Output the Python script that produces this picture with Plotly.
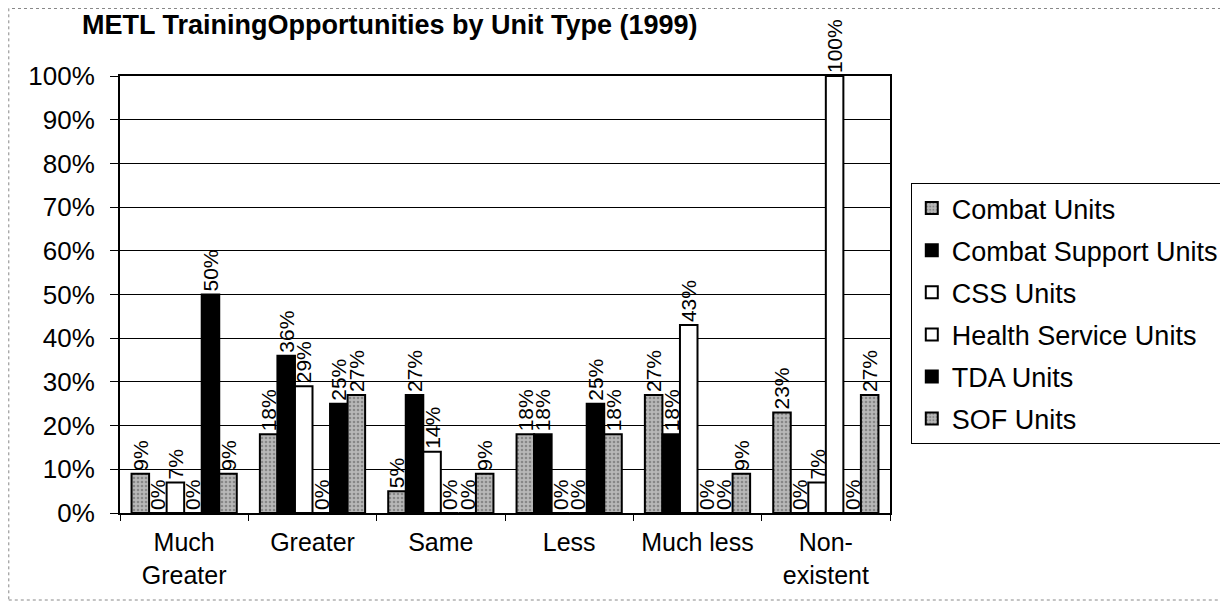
import plotly.graph_objects as go

categories = ["Much<br>Greater", "Greater", "Same", "Less", "Much less", "Non-<br>existent"]
series_names = ["Combat Units", "Combat Support Units", "CSS Units",
                "Health Service Units", "TDA Units", "SOF Units"]
combat = [0.09, 0.18, 0.05, 0.18, 0.27, 0.23]
combat_support = [0.00, 0.36, 0.27, 0.18, 0.18, 0.00]
css = [0.07, 0.29, 0.14, 0.00, 0.43, 0.07]
health_service = [0.00, 0.00, 0.00, 0.00, 0.00, 1.00]
tda = [0.50, 0.25, 0.00, 0.25, 0.00, 0.00]
sof = [0.09, 0.27, 0.09, 0.18, 0.09, 0.27]
y_ticks = [i / 10 for i in range(11)]

series_values = [combat, combat_support, css, health_service, tda, sof]
styles = ["gray", "black", "white", "white", "black", "gray"]

FONT = "Arial, Liberation Sans, sans-serif"
# figure is drawn at page offset (8, 8); plot area in figure px:
L, T, W, H = 112, 68, 772, 437

fig = go.Figure()
for i, (name, vals, st) in enumerate(zip(series_names, series_values, styles)):
    if st == "gray":
        marker = dict(color="#b4b4b4", line=dict(color="black", width=2),
                      pattern=dict(shape=".", fgcolor="#555555", bgcolor="#b8b8b8",
                                   size=4, solidity=0.35, fillmode="overlay"))
    elif st == "black":
        marker = dict(color="black", line=dict(color="black", width=2))
    else:
        marker = dict(color="white", line=dict(color="black", width=2))
    fig.add_trace(go.Bar(
        x=categories, y=vals, name=name, marker=marker,
        text=[f"{round(v*100)}%" for v in vals],
        textposition="outside", textangle=-90, cliponaxis=False,
        constraintext="none",
        textfont=dict(family=FONT, size=21, color="black"),
        legendgroup=f"g{i}",
    ))

fig.update_layout(
    width=1228, height=609,
    paper_bgcolor="white", plot_bgcolor="white",
    margin=dict(l=L, r=1228 - L - W, t=T, b=609 - T - H),
    barmode="group", bargap=0.18, bargroupgap=0,
    title=dict(text="<b>METL TrainingOpportunities by Unit Type (1999)</b>",
               font=dict(family=FONT, size=27, color="black"),
               x=74 / 1228, xanchor="left", y=1 - 17 / 609, yanchor="middle"),
    font=dict(family=FONT, color="black"),
    showlegend=True,
    legend=dict(x=1.027, xanchor="left", y=0.755, yanchor="top",
                bordercolor="black", borderwidth=1, bgcolor="white",
                font=dict(family=FONT, size=27, color="black"),
                tracegroupgap=4, traceorder="grouped", itemwidth=30),
    xaxis=dict(showline=True, linecolor="black", linewidth=2, mirror=True,
               ticks="outside", tickson="boundaries", ticklen=6, tickcolor="black",
               ticklabelstandoff=6,
               tickfont=dict(family=FONT, size=25, color="black")),
    yaxis=dict(range=[0, 1], tickvals=y_ticks, tickformat=".0%",
               showline=True, linecolor="black", linewidth=2, mirror=True,
               showgrid=True, gridcolor="black", gridwidth=1,
               ticks="outside", ticklen=8, tickcolor="black",
               ticklabelstandoff=10,
               tickfont=dict(family=FONT, size=26, color="black")),
    shapes=[dict(type="rect", xref="paper", yref="paper",
                 x0=(0.5 - L) / W, x1=(1217 - L) / W,
                 y0=(T + H - 592) / H, y1=(T + H - 0.5) / H,
                 line=dict(color="#888888", width=1, dash="dot"))],
)

fig.write_html("out.html")
